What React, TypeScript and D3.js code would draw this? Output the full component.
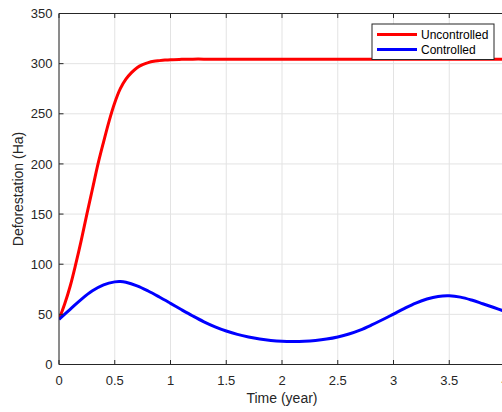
import React from "react";
import * as d3 from "d3";

const timeUncontrolled = [0, 0.05, 0.1, 0.15, 0.2, 0.25, 0.3, 0.35, 0.4, 0.45, 0.5, 0.55, 0.6, 0.65, 0.7, 0.75, 0.8, 0.85, 0.9, 0.95, 1.0, 1.1, 1.2, 1.3, 1.4, 1.5, 1.75, 2.0, 2.5, 3.0, 3.5, 4.0];
const uncontrolled = [45, 60, 78, 100, 124, 150, 175, 200, 222, 243, 261, 275, 284.5, 291, 296, 299, 301, 302.3, 303, 303.6, 304, 304.3, 304.5, 304.5, 304.5, 304.5, 304.5, 304.5, 304.5, 304.5, 304.5, 304.5];

const timeControlled = [0, 0.1, 0.2, 0.3, 0.4, 0.5, 0.55, 0.6, 0.7, 0.8, 0.9, 1.0, 1.1, 1.2, 1.3, 1.4, 1.5, 1.6, 1.7, 1.8, 1.9, 2.0, 2.1, 2.2, 2.3, 2.4, 2.5, 2.6, 2.7, 2.8, 2.9, 3.0, 3.1, 3.2, 3.3, 3.4, 3.5, 3.6, 3.7, 3.8, 3.9, 4.0];
const controlled = [45, 55, 65, 73.5, 79.5, 82.4, 82.7, 82, 78.5, 73.3, 67.3, 61, 54.6, 48.4, 42.6, 37.6, 33.4, 30, 27.4, 25.4, 24, 23.2, 23, 23.2, 24, 25.4, 27.5, 30.4, 34.3, 39.2, 44.6, 50.3, 56, 61.2, 65.3, 67.9, 68.5, 67.2, 64.3, 60.6, 56.8, 53];

const xTicks = [0, 0.5, 1, 1.5, 2, 2.5, 3, 3.5, 4];
const xTickLabels = ["0", "0.5", "1", "1.5", "2", "2.5", "3", "3.5", "4"];
const yTicks = [0, 50, 100, 150, 200, 250, 300, 350];
const yTickLabels = ["0", "50", "100", "150", "200", "250", "300", "350"];

const seriesNames = ["Uncontrolled", "Controlled"];
const seriesColors = ["#ff0000", "#0000ff"];

const W = 502;
const H = 412;
const left = 59;
const right = 505;
const top = 13.5;
const bottom = 364.5;
const axisColor = "#262626";
const font = "'Liberation Sans', Arial, Helvetica, sans-serif";

export default function App() {
  const x = d3.scaleLinear().domain([0, 4]).range([left, right]);
  const y = d3.scaleLinear().domain([0, 350]).range([bottom, top]);

  const line = d3
    .line<[number, number]>()
    .x((d) => x(d[0]))
    .y((d) => y(d[1]))
    .curve(d3.curveCatmullRom.alpha(0.5));

  const redPts: [number, number][] = timeUncontrolled.map((t, i) => [t, uncontrolled[i]]);
  const bluePts: [number, number][] = timeControlled.map((t, i) => [t, controlled[i]]);

  const legX = 372;
  const legY = 24;
  const legW = 122;
  const legH = 35.5;

  return (
    <svg
      width={W}
      height={H}
      style={{ position: "absolute", left: 0, top: 0, background: "#fff" }}
      fontFamily={font}
    >
      <rect x={0} y={0} width={W} height={H} fill="#fff" />
      <defs>
        <clipPath id="plotclip">
          <rect x={left} y={top} width={right - left} height={bottom - top} />
        </clipPath>
      </defs>
      {xTicks.map((t) => (
        <line key={"gx" + t} x1={x(t)} x2={x(t)} y1={top} y2={bottom} stroke="#e3e3e3" strokeWidth={1} />
      ))}
      {yTicks.map((t) => (
        <line key={"gy" + t} x1={left} x2={right} y1={y(t)} y2={y(t)} stroke="#e3e3e3" strokeWidth={1} />
      ))}
      <g clipPath="url(#plotclip)">
        <path d={line(redPts) || ""} fill="none" stroke={seriesColors[0]} strokeWidth={3} strokeLinejoin="round" />
        <path d={line(bluePts) || ""} fill="none" stroke={seriesColors[1]} strokeWidth={3} strokeLinejoin="round" />
      </g>
      <line x1={left} x2={right} y1={bottom} y2={bottom} stroke={axisColor} strokeWidth={1} />
      <line x1={left} x2={right} y1={top} y2={top} stroke={axisColor} strokeWidth={1} />
      <line x1={left} x2={left} y1={top} y2={bottom} stroke={axisColor} strokeWidth={1} />
      {xTicks.map((t, i) => (
        <g key={"xt" + t}>
          <line x1={x(t)} x2={x(t)} y1={bottom} y2={bottom - 4.5} stroke={axisColor} />
          <line x1={x(t)} x2={x(t)} y1={top} y2={top + 4.5} stroke={axisColor} />
          <text x={x(t)} y={385} textAnchor="middle" fontSize={13} fill={axisColor}>
            {xTickLabels[i]}
          </text>
        </g>
      ))}
      {yTicks.map((t, i) => (
        <g key={"yt" + t}>
          <line x1={left} x2={left + 4.5} y1={y(t)} y2={y(t)} stroke={axisColor} />
          <text x={52.5} y={y(t) + 4.6} textAnchor="end" fontSize={13} fill={axisColor}>
            {yTickLabels[i]}
          </text>
        </g>
      ))}
      <text x={(left + right) / 2} y={403} textAnchor="middle" fontSize={14} fill={axisColor}>
        Time (year)
      </text>
      <text
        transform={`translate(23,${(top + bottom) / 2}) rotate(-90)`}
        textAnchor="middle"
        fontSize={14}
        fill={axisColor}
      >
        Deforestation (Ha)
      </text>
      <rect x={legX} y={legY} width={legW} height={legH} fill="#fff" stroke={axisColor} strokeWidth={1} />
      {seriesNames.map((n, i) => (
        <g key={n}>
          <line x1={377} x2={417} y1={34.5 + i * 15} y2={34.5 + i * 15} stroke={seriesColors[i]} strokeWidth={3} />
          <text x={421} y={38.8 + i * 15} fontSize={12} fill="#000">
            {n}
          </text>
        </g>
      ))}
    </svg>
  );
}
